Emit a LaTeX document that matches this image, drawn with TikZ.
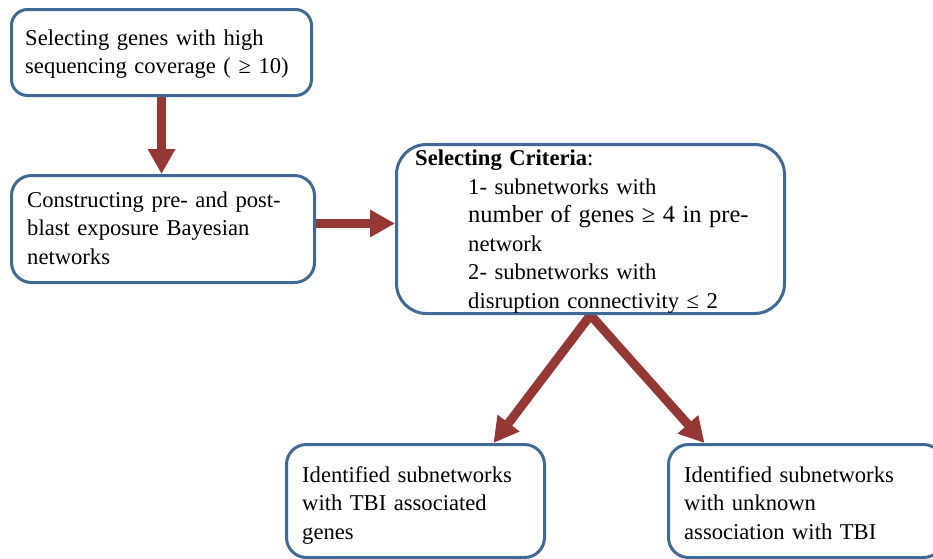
\documentclass[tikz,border=0pt]{standalone}
\usepackage{fontspec}
\setmainfont{Liberation Serif}
\usetikzlibrary{arrows.meta,calc,backgrounds}
\definecolor{boxblue}{RGB}{65,105,150}
\definecolor{arrred}{RGB}{149,55,53}
\tikzset{
  box/.style={draw=boxblue, line width=3pt, fill=white, rectangle, anchor=north west, inner sep=0pt},
  txt/.style={anchor=base west, inner sep=0pt, align=left, text width=#1, font=\fontsize{22.6}{28.5}\selectfont},
  bigarrow/.style={draw=arrred, line width=9pt, line join=miter}
}
\begin{document}
\begin{tikzpicture}[x=1pt,y=-1pt]
\useasboundingbox (0,0) rectangle (933,558);
% boxes
\node[box, rounded corners=16pt, minimum width=300pt, minimum height=86pt] (b1) at (10,8) {};
\node[box, rounded corners=20pt, minimum width=303pt, minimum height=107pt] (b2) at (10,174) {};
\node[box, rounded corners=30pt, minimum width=388pt, minimum height=169pt] (b3) at (395,143) {};
\node[box, rounded corners=20pt, minimum width=258pt, minimum height=113pt] (b4) at (285,443) {};
\node[box, rounded corners=20pt, minimum width=275pt, minimum height=113pt] (b5) at (667,443) {};
% texts
\node[txt=290pt] (t1) at (25,45) {Selecting genes with high\\sequencing coverage ( ≥ 10)};
\node[txt=290pt] (t2) at (27,207) {Constructing pre- and post-\\blast exposure Bayesian\\networks};
\node[txt=300pt] (t3a) at (415,165) {\textbf{Selecting Criteria}:};
\node[txt=310pt] (t3b) at (468,194) {1- subnetworks with\\{\fontsize{24.5}{28.5}\selectfont number of genes ≥ 4 in pre-}\\network\\2- subnetworks with\\disruption connectivity ≤ 2};
\node[txt=240pt] (t4) at (302,482) {Identified subnetworks\\with TBI associated\\genes};
\node[txt=240pt] (t5) at (684,482) {Identified subnetworks\\with unknown\\association with TBI};
% connectors
\coordinate (h1) at ([yshift=5.5pt]b2.east);
\coordinate (e4) at ([xshift=78pt]b4.north);
\coordinate (e5) at ([xshift=-101.5pt]b5.north);
\begin{pgfonlayer}{background}
\draw[bigarrow, -{Triangle[width=26pt,length=25pt]}] (b1.south) -- (b1.south |- b2.north);
\draw[bigarrow, -{Triangle[width=26pt,length=25pt]}] (h1) -- (h1 -| b3.west);
\draw[bigarrow, {Triangle[width=26pt,length=25pt]}-{Triangle[width=26pt,length=25pt]}] (e4) -- (b3.south) -- (e5);
\end{pgfonlayer}
\end{tikzpicture}
\end{document}
